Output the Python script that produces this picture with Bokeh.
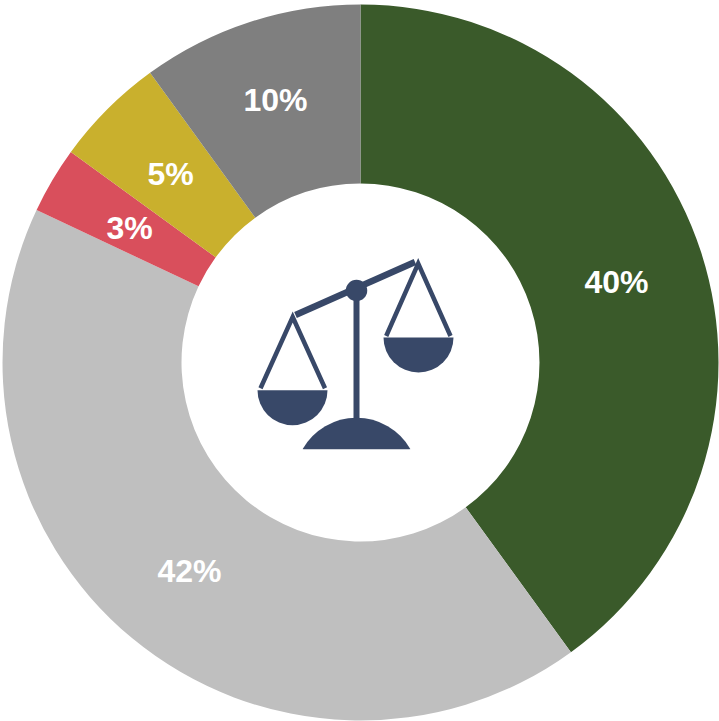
from math import pi
from bokeh.plotting import figure
from bokeh.embed import file_html
from bokeh.resources import INLINE
from bokeh.core.properties import value

# Chart data (clockwise from 12 o'clock)
categories = ["A", "B", "C", "D", "E"]
shares = [40, 42, 3, 5, 10]
labels = ["40%", "42%", "3%", "5%", "10%"]
colors = ["#3A5A2A", "#BFBFBF", "#D94F5C", "#C9B02D", "#7F7F7F"]

W, H = 719, 721
CX, CY, R_OUT, R_IN = 360, 362, 358, 179
INK = "#384868"
FONT = "Liberation Sans"
label_px = [(616, 281), (189, 570), (129, 227), (170, 173), (275, 99)]


def fy(y):
    return H - y


p = figure(width=W, height=H, x_range=(0, W), y_range=(0, H), toolbar_location=None,
           output_backend="svg", min_border=0, outline_line_color=None,
           background_fill_color="white", border_fill_color="white", margin=(0, 0, 0, 0))
p.axis.visible = False
p.grid.visible = False

# Donut
total = sum(shares)
cum = 0
for share, col in zip(shares, colors):
    a0 = pi / 2 - 2 * pi * (cum + share) / total
    a1 = pi / 2 - 2 * pi * cum / total
    p.annular_wedge(x=CX, y=fy(CY), inner_radius=R_IN, outer_radius=R_OUT,
                    start_angle=a0, end_angle=a1, fill_color=col, line_color=None)
    cum += share

p.text(x=[q[0] for q in label_px], y=[fy(q[1]) for q in label_px], text=labels,
       text_color="white", text_font=value(FONT), text_font_style="bold",
       text_font_size="32px", text_align="center", text_baseline="middle")

# Scales icon
p.line([295, 414.5], [fy(314.5), fy(261.5)], line_color=INK, line_width=6.5)
p.line([356, 356], [fy(290), fy(425)], line_color=INK, line_width=6)
p.scatter([356], [fy(290)], size=21.5, fill_color=INK, line_color=None)
# dome base, pans and hangers
p.wedge(x=356, y=fy(479.4), radius=62.1, start_angle=pi / 2 - 1.054, end_angle=pi / 2 + 1.054,
        fill_color=INK, line_color=None)
p.quad(left=[295], right=[417], bottom=[fy(480)], top=[fy(448.7)], fill_color="white", line_color=None)
p.wedge(x=292, y=fy(389.7), radius=35, start_angle=pi, end_angle=2 * pi, fill_color=INK, line_color=None)
p.wedge(x=418, y=fy(337), radius=35, start_angle=pi, end_angle=2 * pi, fill_color=INK, line_color=None)
for xs, ys in [([260, 292.2, 324.5], [387.8, 316.5, 387.8]), ([385.7, 417.7, 450], [335.5, 263, 335.5])]:
    p.line(xs, [fy(v) for v in ys], line_color=INK, line_width=4.5, line_join="miter")

open("out.html", "w").write(file_html(p, INLINE))
